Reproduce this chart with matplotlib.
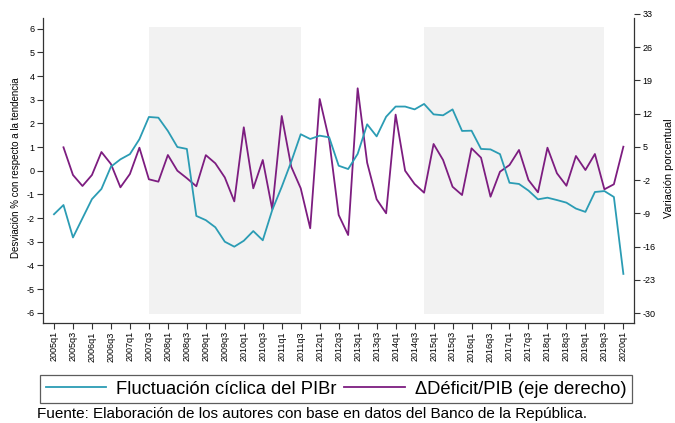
import matplotlib
matplotlib.use("Agg")
import matplotlib.pyplot as plt
from matplotlib.patches import Rectangle
from matplotlib.lines import Line2D
import numpy as np

plt.rcParams['font.family'] = ['Liberation Sans', 'DejaVu Sans']

# Quarters 2005q1 .. 2020q1
years = list(range(2005, 2021))
quarters = [f"{y}q{q}" for y in years for q in (1, 2, 3, 4)][:61]

ciclo = [-1.84, -1.45, -2.82, -2.01, -1.20, -0.77, 0.17, 0.48, 0.70, 1.33,
         2.27, 2.24, 1.68, 1.00, 0.92, -1.91, -2.09, -2.39, -3.00, -3.21,
         -2.96, -2.55, -2.94, -1.66, -0.68, 0.38, 1.54, 1.34, 1.48, 1.41,
         0.21, 0.07, 0.71, 1.96, 1.45, 2.28, 2.71, 2.71, 2.59, 2.82,
         2.38, 2.34, 2.59, 1.68, 1.69, 0.92, 0.90, 0.70, -0.51, -0.56,
         -0.84, -1.21, -1.14, -1.24, -1.35, -1.60, -1.74, -0.90, -0.86, -1.11,
         -4.36]

deficit = [np.nan, 4.91, -0.92, -3.24, -0.92, 3.92, 1.40, -3.52, -0.71, 4.83,
           -1.83, -2.33, 3.29, -0.02, -1.60, -3.30, 3.26, 1.54, -1.44, -6.48,
           9.13, -3.73, 2.24, -8.15, 11.51, 0.83, -3.73, -12.15, 15.09, 6.45,
           -9.35, -13.57, 17.35, 1.67, -6.04, -8.99, 11.80, -0.02, -2.82, -4.65,
           5.61, 2.24, -3.40, -5.14, 4.70, 2.72, -5.50, -0.23, 1.18, 4.35,
           -1.98, -4.57, 4.83, -0.56, -3.19, 3.08, 0.13, 3.50, -3.94, -2.88,
           5.04]

shade_periods = [("2007q3", "2011q3"), ("2014q4", "2019q3")]

left_ticks = list(range(-6, 7))
right_ticks = [-30, -23, -16, -9, -2, 5, 12, 19, 26, 33]

teal = '#2b9cb4'
purple = '#7d1d80'

fig = plt.figure(figsize=(6.75, 4.23), dpi=100)
ax = fig.add_axes([42.7/675, (423-323)/423, (634-42.7)/675, 310/423])
ax2 = ax.twinx()
ax.set_zorder(2)
ax2.set_zorder(1)
ax.patch.set_visible(False)

x = np.arange(len(quarters))

ax.set_xlim(-1.19, 61.12)
ax.set_ylim(-6.434, 6.662)
ax2.set_ylim(-32.107, 33.21)

for s, e in shade_periods:
    i0, i1 = quarters.index(s), quarters.index(e)
    ax2.add_patch(Rectangle((i0, -6.06), i1 - i0, 12.12, transform=ax.transData,
                            facecolor='#f2f2f2', lw=0, zorder=0))

ax2.plot(x, deficit, color=purple, lw=1.3, zorder=3)
ax.plot(x, ciclo, color=teal, lw=1.3, zorder=3)

ax.set_yticks(left_ticks)
ax.set_yticklabels([str(t) for t in left_ticks], fontsize=6.5)
ax2.set_yticks(right_ticks)
ax2.set_yticklabels([str(t) for t in right_ticks], fontsize=6.5)

ax.set_xticks(x[::2])
ax.set_xticklabels(quarters[::2], rotation=90, fontsize=6.5)

for a in (ax, ax2):
    a.spines['top'].set_visible(False)
    a.tick_params(direction='out', length=4, width=0.8, color='#333333', pad=2)
    for sp in a.spines.values():
        sp.set_linewidth(0.9)
        sp.set_color('#333333')
ax2.spines['left'].set_visible(False)
ax2.spines['bottom'].set_visible(False)
ax.spines['right'].set_visible(False)
ax.spines['left'].set_bounds(-6.434, 6.451)
ax2.spines['right'].set_bounds(-32.107, 32.16)

ax.set_ylabel("Desviación % con respecto a la tendencia", fontsize=7, labelpad=4)
ax2.set_ylabel("Variación porcentual", fontsize=7.8, labelpad=6)

# Legend
handles = [Line2D([], [], color=teal, lw=1.3), Line2D([], [], color=purple, lw=1.3)]
leg = fig.legend(handles, ["Fluctuación cíclica del PIBr", "ΔDéficit/PIB (eje derecho)"],
                 loc='center', bbox_to_anchor=(336/675, 1 - 389/423), ncol=2,
                 fontsize=13.2, frameon=True, fancybox=False, handlelength=3.3,
                 columnspacing=0.4, handletextpad=0.55, borderpad=0.3,
                 borderaxespad=0)
leg.get_frame().set_edgecolor('#333333')
leg.get_frame().set_linewidth(0.9)

fig.text(37/675, 1 - 414/423, "Fuente: Elaboración de los autores con base en datos del Banco de la República.",
         fontsize=11, ha='left', va='center')

fig.savefig("out.png", dpi=100)
